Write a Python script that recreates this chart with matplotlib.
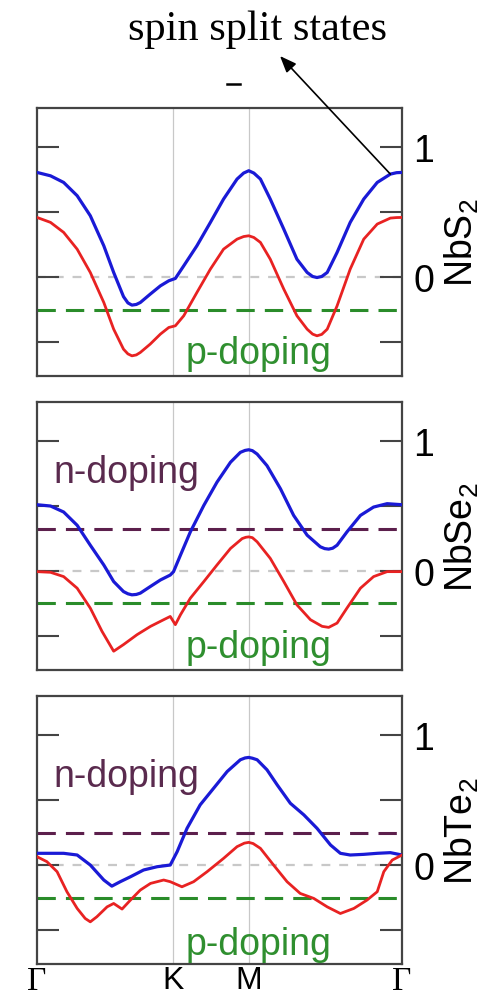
"""
NbX2 自旋劈裂能带：三个面板 (NbS2 / NbSe2 / NbTe2)
"""

import matplotlib
matplotlib.use('Agg')
import matplotlib.pyplot as plt
from matplotlib.lines import Line2D

plt.rcParams['font.family'] = ['Liberation Sans', 'DejaVu Sans']
plt.rcParams['mathtext.default'] = 'regular'

# ============================================================
# 数据
# ============================================================
k_ticks = [0.0, 0.3726, 0.580, 1.0]
k_labels = ['Γ', 'K', 'M', 'Γ']
materials = ['NbS$_2$', 'NbSe$_2$', 'NbTe$_2$']

# ---- NbS2 ----
nbs2_up_k = [0.0, 0.037, 0.073, 0.110, 0.146, 0.183, 0.210, 0.237, 0.249, 0.260, 0.272,
             0.283, 0.310, 0.338, 0.361, 0.379, 0.402, 0.438, 0.475, 0.511, 0.548, 0.566,
             0.580, 0.594, 0.612, 0.639, 0.676, 0.712, 0.740, 0.755, 0.767, 0.780, 0.795,
             0.822, 0.858, 0.895, 0.932, 0.968, 0.985, 1.0]
nbs2_up_e = [0.805, 0.779, 0.728, 0.626, 0.472, 0.241, 0.036, -0.150, -0.198, -0.215, -0.210,
             -0.195, -0.131, -0.067, -0.028, -0.010, 0.087, 0.241, 0.421, 0.600, 0.754, 0.800,
             0.818, 0.800, 0.754, 0.600, 0.369, 0.138, 0.036, 0.005, -0.003, 0.005, 0.036,
             0.190, 0.421, 0.600, 0.728, 0.792, 0.803, 0.805]
nbs2_dn_k = [0.0, 0.037, 0.073, 0.110, 0.146, 0.183, 0.210, 0.237, 0.249, 0.260, 0.272,
             0.283, 0.310, 0.338, 0.361, 0.379, 0.402, 0.438, 0.475, 0.511, 0.548, 0.566,
             0.580, 0.594, 0.612, 0.639, 0.676, 0.712, 0.740, 0.755, 0.767, 0.780, 0.795,
             0.822, 0.858, 0.895, 0.932, 0.968, 0.985, 1.0]
nbs2_dn_e = [0.459, 0.421, 0.344, 0.215, 0.036, -0.195, -0.400, -0.554, -0.590, -0.605, -0.598,
             -0.579, -0.515, -0.438, -0.387, -0.374, -0.297, -0.118, 0.062, 0.215, 0.292, 0.312,
             0.318, 0.305, 0.267, 0.138, -0.092, -0.297, -0.400, -0.438, -0.451, -0.440, -0.400,
             -0.221, 0.062, 0.292, 0.408, 0.454, 0.458, 0.459]
nbs2_n = None
nbs2_p = -0.25

# ---- NbSe2 ----
nbse2_up_k = [0.0, 0.037, 0.073, 0.110, 0.146, 0.183, 0.210, 0.237, 0.249, 0.260, 0.272,
              0.283, 0.310, 0.338, 0.365, 0.374, 0.393, 0.420, 0.457, 0.493, 0.530, 0.557,
              0.570, 0.580, 0.590, 0.603, 0.630, 0.667, 0.703, 0.740, 0.776, 0.788, 0.799,
              0.810, 0.822, 0.849, 0.886, 0.922, 0.959, 1.0]
nbse2_up_e = [0.509, 0.499, 0.453, 0.351, 0.198, 0.046, -0.081, -0.158, -0.175, -0.183, -0.180,
              -0.170, -0.120, -0.069, -0.031, -0.005, 0.122, 0.300, 0.504, 0.682, 0.835, 0.911,
              0.926, 0.931, 0.924, 0.898, 0.809, 0.631, 0.427, 0.275, 0.186, 0.172, 0.168,
              0.175, 0.198, 0.300, 0.427, 0.491, 0.517, 0.509]
nbse2_dn_k = [0.0, 0.037, 0.073, 0.110, 0.146, 0.178, 0.210, 0.237, 0.274, 0.311,
              0.347, 0.365, 0.379, 0.393, 0.420, 0.457, 0.493, 0.530, 0.562, 0.572, 0.580,
              0.590, 0.603, 0.639, 0.676, 0.712, 0.749, 0.781, 0.799, 0.822, 0.849, 0.886,
              0.922, 0.959, 1.0]
nbse2_dn_e = [-0.005, -0.010, -0.043, -0.132, -0.285, -0.463, -0.616, -0.565, -0.489, -0.425,
              -0.374, -0.349, -0.412, -0.336, -0.209, -0.081, 0.046, 0.173, 0.249, 0.259, 0.262,
              0.256, 0.224, 0.097, -0.081, -0.260, -0.374, -0.425, -0.433, -0.400, -0.285, -0.132,
              -0.043, -0.005, -0.005]
nbse2_n = 0.326
nbse2_p = -0.247

# ---- NbTe2 ----
nbte2_up_k = [0.0, 0.037, 0.073, 0.110, 0.146, 0.183, 0.205, 0.228, 0.256, 0.292,
              0.329, 0.365, 0.384, 0.411, 0.447, 0.484, 0.521, 0.557, 0.570, 0.580, 0.590,
              0.603, 0.630, 0.658, 0.694, 0.731, 0.767, 0.804, 0.831, 0.858, 0.895, 0.932,
              0.968, 1.0]
nbte2_up_e = [0.090, 0.090, 0.090, 0.077, 0.000, -0.115, -0.162, -0.128, -0.090, -0.038,
              -0.013, 0.000, 0.103, 0.282, 0.462, 0.590, 0.718, 0.808, 0.822, 0.826, 0.820,
              0.808, 0.731, 0.615, 0.474, 0.385, 0.282, 0.154, 0.090, 0.077, 0.082, 0.090,
              0.095, 0.077]
nbte2_dn_k = [0.0, 0.027, 0.055, 0.082, 0.110, 0.132, 0.146, 0.164, 0.192, 0.210,
              0.233, 0.256, 0.283, 0.311, 0.347, 0.365, 0.397, 0.429, 0.466, 0.511,
              0.548, 0.568, 0.580, 0.592, 0.612, 0.648, 0.685, 0.721, 0.758, 0.795, 0.831,
              0.868, 0.904, 0.932, 0.950, 0.973, 1.0]
nbte2_dn_e = [0.064, 0.026, -0.051, -0.205, -0.333, -0.410, -0.436, -0.397, -0.321, -0.295,
              -0.338, -0.269, -0.192, -0.141, -0.115, -0.128, -0.167, -0.128, -0.051, 0.051,
              0.141, 0.168, 0.174, 0.165, 0.128, 0.000, -0.128, -0.218, -0.256, -0.321, -0.372,
              -0.333, -0.269, -0.205, -0.051, 0.038, 0.077]
nbte2_n = 0.249
nbte2_p = -0.251

# ---- 颜色 ----
colors = {
    'up':    '#1a1ad6',
    'dn':    '#e82222',
    'p':     '#2a8c2a',
    'n':     '#5c1f4c',
    'grid':  '#c8c8c8',
    'frame': '#444444',
}


def draw_panel(ax, up_k, up_e, dn_k, dn_e, n_level, p_level, name, bottom=False):
    """绘制一个材料的能带面板"""
    for xk in k_ticks[1:3]:
        ax.axvline(xk, color=colors['grid'], lw=0.9, zorder=0)
    ax.axhline(0, color=colors['grid'], lw=1.6, dashes=(4, 4), zorder=1)

    if n_level is not None:
        ax.axhline(n_level, color=colors['n'], lw=2.2, dashes=(6, 3.3), zorder=2)
        ax.text(0.045, n_level + 0.36, 'n-doping', color='#5a2a4e', fontsize=27,
                va='baseline', ha='left')
    ax.axhline(p_level, color=colors['p'], lw=2.2, dashes=(6, 3.3), zorder=2)
    ax.text(0.406, -0.66 if not bottom else -0.68, 'p-doping', color='#2f8f2f',
            fontsize=27, va='baseline', ha='left')

    ax.plot(up_k, up_e, color=colors['up'], lw=2.3, zorder=3, solid_joinstyle='round')
    ax.plot(dn_k, dn_e, color=colors['dn'], lw=2.0, zorder=3, solid_joinstyle='round')

    ax.set_xlim(0, 1)
    ax.set_ylim(-0.76, 1.30)

    ax.set_yticks([-0.5, 0, 0.5, 1])
    ax.set_yticklabels(['', '0', '', '1'])
    ax.tick_params(axis='y', direction='in', left=True, right=True,
                   labelleft=False, labelright=True, length=16, width=1.5,
                   color=colors['frame'], labelsize=27, pad=8)
    ax.yaxis.set_label_position('right')
    ax.set_ylabel(name, fontsize=27, labelpad=6)

    ax.set_xticks(k_ticks)
    if bottom:
        ax.set_xticklabels(k_labels)
        for lab, txt in zip(ax.get_xticklabels(), k_labels):
            lab.set_fontsize(23)
            if txt == 'Γ':
                lab.set_family(['Liberation Serif', 'DejaVu Serif'])
                lab.set_fontsize(24)
    else:
        ax.set_xticklabels([])
    ax.tick_params(axis='x', length=0, pad=1)

    for sp in ax.spines.values():
        sp.set_color(colors['frame'])
        sp.set_linewidth(1.6)


fig = plt.figure(figsize=(4.96, 10.04), dpi=100)

ax1 = fig.add_axes([0.0746, 0.6245, 0.736, 0.2669])
ax2 = fig.add_axes([0.0746, 0.3317, 0.736, 0.2672])
ax3 = fig.add_axes([0.0746, 0.0388, 0.736, 0.2673])

draw_panel(ax1, nbs2_up_k, nbs2_up_e, nbs2_dn_k, nbs2_dn_e, nbs2_n, nbs2_p, materials[0])
draw_panel(ax2, nbse2_up_k, nbse2_up_e, nbse2_dn_k, nbse2_dn_e, nbse2_n, nbse2_p, materials[1])
draw_panel(ax3, nbte2_up_k, nbte2_up_e, nbte2_dn_k, nbte2_dn_e, nbte2_n, nbte2_p, materials[2],
           bottom=True)

# ---- 顶部标注 ----
fig.text(0.52, 0.960, 'spin split states', ha='center', va='baseline',
         fontsize=30.5, family=['Liberation Serif', 'DejaVu Serif'])
fig.add_artist(Line2D([0.458, 0.484], [0.9153, 0.9153], color='black', lw=1.8))
ax1.annotate('', xy=(0.5645, 0.9432), xycoords='figure fraction',
             xytext=(nbs2_up_k[-3], nbs2_up_e[-3]), textcoords='data',
             arrowprops=dict(arrowstyle='-|>,head_width=0.4,head_length=1.0',
                             lw=1.2, color='black', shrinkA=0, shrinkB=0))

fig.savefig('out.png', dpi=100)
plt.close(fig)
